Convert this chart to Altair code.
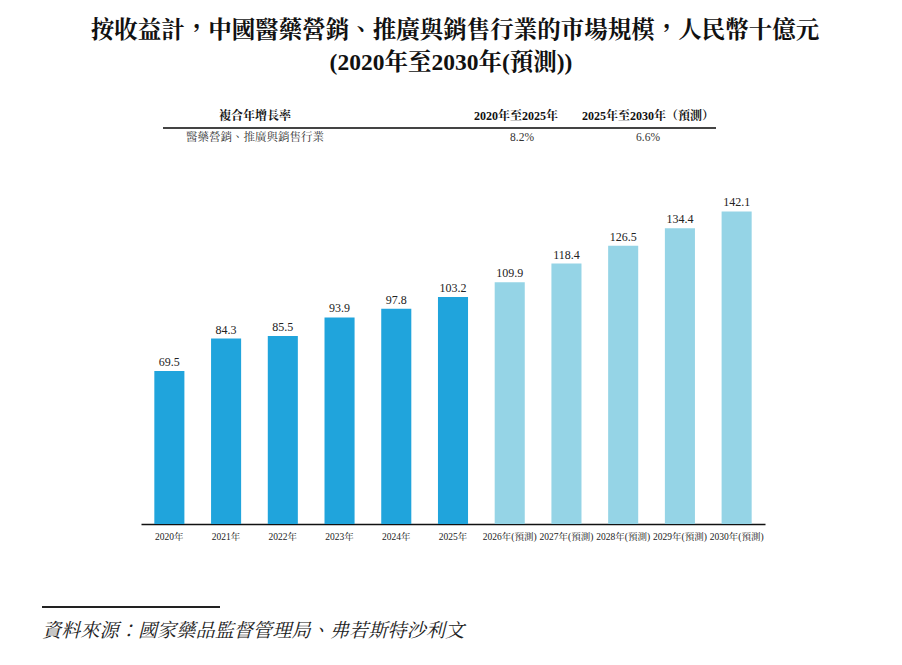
import altair as alt
import pandas as pd

# Market size, RMB billion
years = ["2020年", "2021年", "2022年", "2023年", "2024年", "2025年",
         "2026年(預測)", "2027年(預測)", "2028年(預測)", "2029年(預測)", "2030年(預測)"]
values = [69.5, 84.3, 85.5, 93.9, 97.8, 103.2, 109.9, 118.4, 126.5, 134.4, 142.1]
phase = ["歷史"] * 6 + ["預測"] * 5

# CAGR table
cagr_title = "複合年增長率"
cagr_periods = ["2020年至2025年", "2025年至2030年（預測）"]
cagr_segment = "醫藥營銷、推廣與銷售行業"
cagr_values = ["8.2%", "6.6%"]

title_lines = ["按收益計，中國醫藥營銷、推廣與銷售行業的市場規模，人民幣十億元",
               "(2020年至2030年(預測))"]
source_note = "資料來源：國家藥品監督管理局、弗若斯特沙利文"

SERIF = "Liberation Serif, Noto Serif CJK TC, Noto Sans CJK TC"
W, H = 624, 330
LEFT, TOP = 141, 194

bars_df = pd.DataFrame({"year": years, "value": values, "phase": phase})

x_enc = alt.X("year:N", sort=years, title=None,
              scale=alt.Scale(paddingInner=0.47, paddingOuter=0.235),
              axis=alt.Axis(labelAngle=0, ticks=False, domainColor="#111",
                            domainWidth=1.3, labelFont=SERIF, labelFontSize=9.5,
                            labelColor="#222", labelPadding=7, grid=False))
y_enc = alt.Y("value:Q", scale=alt.Scale(domain=[0, 150], nice=False), axis=None)

base = alt.Chart(bars_df).encode(x=x_enc, y=y_enc)

bars = base.mark_bar().encode(
    color=alt.Color("phase:N", legend=None,
                    scale=alt.Scale(domain=["歷史", "預測"], range=["#20a4dc", "#95d4e6"]))
)
labels = base.mark_text(dy=-9, font=SERIF, fontSize=12, color="#222").encode(
    text=alt.Text("value:Q", format=".1f"))


def txt(df, **kw):
    return alt.Chart(df).mark_text(**kw).encode(
        x=alt.X("px:Q", scale=None), y=alt.Y("py:Q", scale=None), text="t:N")


title_df = pd.DataFrame({"t": title_lines, "px": [314, 310], "py": [-163, -131]})
title = txt(title_df, font=SERIF, fontSize=23.5, fontWeight="bold", color="#111",
            baseline="middle")

head_df = pd.DataFrame({"t": [cagr_title] + cagr_periods,
                        "px": [114, 375, 507], "py": [-78, -78, -78]})
head = txt(head_df, font=SERIF, fontSize=12, fontWeight="bold", color="#111",
           baseline="middle")

row_df = pd.DataFrame({"t": [cagr_segment] + cagr_values,
                       "px": [114, 381, 507], "py": [-56, -56, -56]})
row = txt(row_df, font=SERIF, fontSize=11.5, color="#333", baseline="middle")

head_rule = alt.Chart(bars_df).mark_rule(color="#444", strokeWidth=1).encode(
    x=alt.value(22), x2=alt.value(575), y=alt.value(-66))

foot_rule = alt.Chart(bars_df).mark_rule(color="#222", strokeWidth=1).encode(
    x=alt.value(-99), x2=alt.value(79), y=alt.value(413))

foot_df = pd.DataFrame({"t": [source_note], "px": [-99], "py": [437]})
foot = txt(foot_df, font=SERIF, fontSize=19.2, fontStyle="italic", color="#222",
           align="left", baseline="middle")

chart = alt.layer(bars, labels, title, head, row, head_rule, foot_rule, foot).properties(
    width=W, height=H,
    autosize=alt.AutoSizeParams(type="none"),
    padding={"left": LEFT, "top": TOP, "right": 902 - LEFT - W, "bottom": 665 - TOP - H},
    background="white",
).configure_view(stroke=None)

chart.save("out.html", embed_options={"renderer": "svg", "actions": False})
